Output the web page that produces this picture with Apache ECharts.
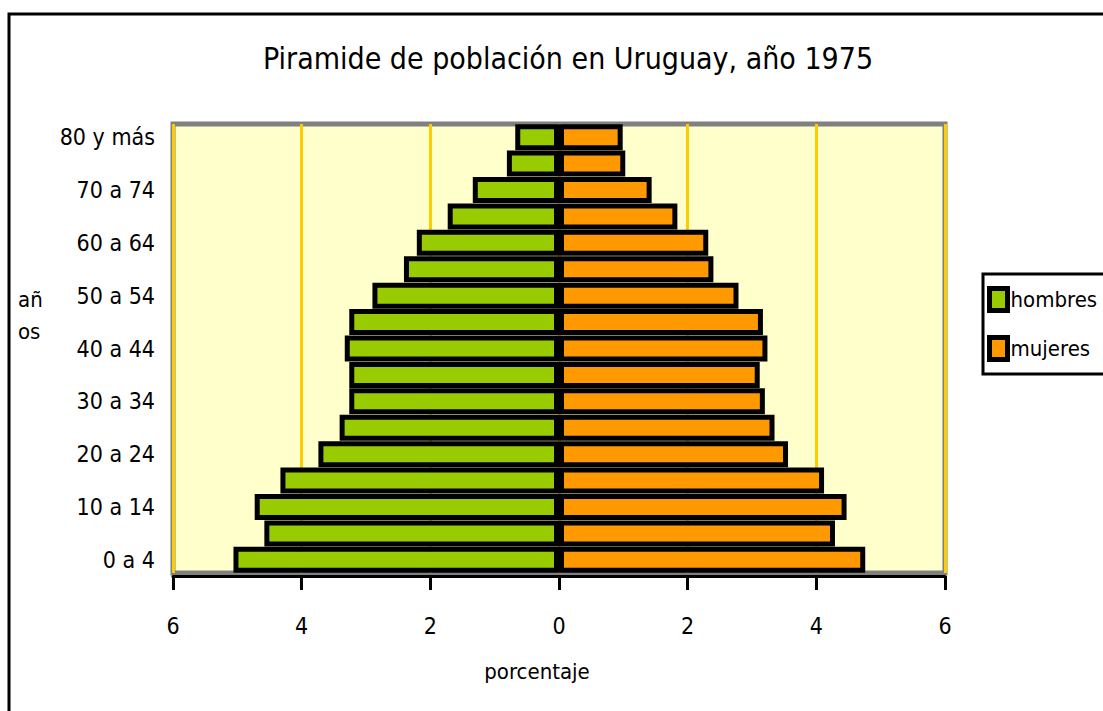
<!DOCTYPE html>
<html>
<head>
<meta charset="utf-8">
<script src="https://cdn.jsdelivr.net/npm/echarts@6/dist/echarts.min.js"></script>
<style>
  html, body { margin: 0; padding: 0; background: #fff; overflow: hidden; }
  #chart { width: 1103px; height: 711px; }
</style>
</head>
<body>
<div id="chart"></div>
<script>
// grupos de edad, de abajo hacia arriba
const categorias = ['0 a 4', '5 a 9', '10 a 14', '15 a 19', '20 a 24', '25 a 29', '30 a 34', '35 a 39',
  '40 a 44', '45 a 49', '50 a 54', '55 a 59', '60 a 64', '65 a 69', '70 a 74', '75 a 79', '80 y más']
// porcentajes
const hombres = [5.06, 4.58, 4.73, 4.33, 3.74, 3.41, 3.26, 3.26, 3.33, 3.26, 2.90, 2.41, 2.21, 1.73, 1.34, 0.81, 0.68]
const mujeres = [4.76, 4.29, 4.47, 4.12, 3.56, 3.35, 3.20, 3.12, 3.24, 3.17, 2.79, 2.40, 2.32, 1.84, 1.44, 1.03, 0.99]
const ticksX = [-6, -4, -2, 0, 2, 4, 6]

const fuente = "'Liberation Sans Narrow', 'Arial Narrow', 'DejaVu Sans Condensed', sans-serif"

const myChart = echarts.init(document.getElementById('chart'), null, { renderer: 'svg' })
myChart.setOption({
  animation: false,
  textStyle: { fontFamily: fuente, color: '#000' },
  title: {
    text: 'Piramide de población en Uruguay, año 1975',
    left: 258,
    top: 38,
    textStyle: { fontFamily: fuente, fontSize: 30, fontWeight: 'normal', color: '#000' }
  },
  graphic: [
    { // marco exterior
      type: 'rect',
      shape: { x: 9, y: 14, width: 1200, height: 800 },
      style: { fill: 'none', stroke: '#000', lineWidth: 3 },
      silent: true
    },
    {
      type: 'text',
      left: 18,
      top: 283,
      style: { text: 'añ\nos', font: "22px " + fuente, fill: '#000', lineHeight: 32 }
    }
  ],
  legend: {
    orient: 'vertical',
    left: 983,
    top: 274,
    padding: [12, 40, 12, 4],
    itemGap: 22,
    itemWidth: 18,
    itemHeight: 22,
    icon: 'rect',
    borderColor: '#000',
    borderWidth: 3,
    itemStyle: { borderColor: '#000', borderWidth: 5 },
    textStyle: { fontFamily: fuente, fontSize: 22, color: '#000', padding: [0, 0, 0, -2] },
    data: ['hombres', 'mujeres']
  },
  grid: {
    left: 173,
    right: 158,
    top: 124,
    bottom: 138,
    show: true,
    backgroundColor: '#FFFFCC',
    borderColor: '#808080',
    borderWidth: 5
  },
  xAxis: {
    type: 'value',
    min: -6,
    max: 6,
    interval: 2,
    offset: 3,
    name: 'porcentaje',
    nameLocation: 'middle',
    nameGap: 84,
    nameTextStyle: { fontFamily: fuente, fontSize: 22, color: '#000', padding: [0, 44, 0, 0] },
    axisLine: { show: true, onZero: false, lineStyle: { color: '#000', width: 3 } },
    axisTick: { show: true, length: 14, lineStyle: { color: '#000', width: 3 } },
    axisLabel: {
      margin: 38,
      fontFamily: fuente,
      fontSize: 23,
      color: '#000',
      formatter: v => ticksX.includes(v) ? String(Math.abs(v)) : ''
    },
    splitLine: { show: true, lineStyle: { color: '#FFCC00', width: 3 } }
  },
  yAxis: {
    type: 'category',
    data: categorias,
    axisLine: { show: false },
    axisTick: { show: false },
    axisLabel: {
      interval: 1,
      margin: 18,
      fontFamily: fuente,
      fontSize: 23,
      color: '#000'
    }
  },
  series: [
    {
      name: 'hombres',
      type: 'bar',
      stack: 'total',
      barWidth: 26,
      itemStyle: { color: '#99CC00', borderColor: '#000', borderWidth: 5 },
      data: hombres.map(v => -v)
    },
    {
      name: 'mujeres',
      type: 'bar',
      stack: 'total',
      barWidth: 26,
      itemStyle: { color: '#FF9900', borderColor: '#000', borderWidth: 5 },
      data: mujeres
    }
  ]
})
</script>
</body>
</html>
